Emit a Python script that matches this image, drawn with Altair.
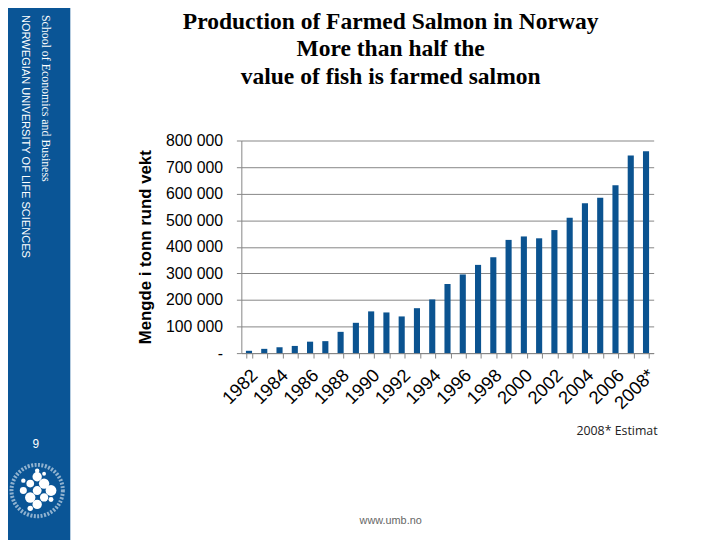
import altair as alt
import pandas as pd

# ---- data ----
years = [str(y) for y in range(1982, 2008)] + ["2008*"]
tonnes = [8700, 16000, 22000, 27000, 43000, 45000, 80000, 114000, 157000,
          153000, 138000, 169000, 202000, 260000, 296000, 332000, 361000,
          426000, 439000, 432000, 463000, 509000, 564000, 585000, 632000,
          744000, 760000]
shown_labels = ["1982", "1984", "1986", "1988", "1990", "1992", "1994", "1996",
                "1998", "2000", "2002", "2004", "2006", "2008*"]
y_ticks = [0, 100000, 200000, 300000, 400000, 500000, 600000, 700000, 800000]

title_lines = ["Production of Farmed Salmon in Norway",
               "More than half the",
               "value of fish is farmed salmon"]
side_serif = "School of Economics and Business"
side_sans = "NORWEGIAN UNIVERSITY OF LIFE SCIENCES"
page_no = "9"
note = "2008* Estimat"
footer = "www.umb.no"

df = pd.DataFrame({"year": years, "tonnes": tonnes})

# ---- layout ----
PL, PT = 244, 139           # plot origin in page coordinates
W, H = 417, 215
BAR = "#0B5390"
SIDE = "#0A5596"
GRAY = "#868686"


def px(x):
    return x - PL


def py(y):
    return y - PT


label_list = ",".join("'%s'" % s for s in shown_labels)

bars = alt.Chart(df).mark_bar(color=BAR).encode(
    x=alt.X("year:N", sort=None,
            scale=alt.Scale(paddingInner=0.6, paddingOuter=0.3),
            axis=alt.Axis(title=None, tickBand="extent", labelAngle=-45,
                          labelAlign="right", labelBaseline="middle",
                          labelFont="Liberation Sans", labelFontSize=18.5,
                          labelColor="#000000", labelPadding=14, labelOffset=5,
                          labelOverlap=False,
                          labelExpr="indexof([%s], datum.value) >= 0 ? datum.label : ''" % label_list,
                          tickSize=5, tickColor=GRAY, domainColor=GRAY)),
    y=alt.Y("tonnes:Q",
            scale=alt.Scale(domain=[0, 800000], nice=False),
            axis=alt.Axis(values=y_ticks, grid=True, gridColor=GRAY, gridOpacity=1,
                          labelExpr="datum.value == 0 ? '-\u00a0\u00a0' : format(datum.value / 1000, 'd') + ' 000'",
                          labelFont="Liberation Sans", labelFontSize=16,
                          labelColor="#000000", labelPadding=14,
                          tickSize=5, tickColor=GRAY, domainColor=GRAY,
                          title="Mengde i tonn rund vekt",
                          titleFont="Liberation Sans", titleFontSize=17,
                          titleFontWeight="bold", titleColor="#000000",
                          titleX=-97, titleY=H / 2, titleAngle=-90,
                          titleAlign="center", titleBaseline="middle")),
)

one = pd.DataFrame({"t": [""]})

sidebar = alt.Chart(one).mark_rect(color=SIDE, clip=False).encode(
    x=alt.value(px(0)), x2=alt.value(px(71)),
    y=alt.value(py(0)), y2=alt.value(py(545)))


def text_layer(txt, x, y, **kw):
    return alt.Chart(pd.DataFrame({"t": [txt]})).mark_text(clip=False, **kw).encode(
        text="t:N", x=alt.value(px(x)), y=alt.value(py(y)))


title = text_layer("\n".join(title_lines), 395, 26.5, font="Liberation Serif",
                   fontSize=23.8, fontWeight="bold", align="center",
                   baseline="alphabetic", lineBreak="\n", lineHeight=27.5,
                   color="#000000")
s1 = text_layer(side_serif, 46, 12, font="Liberation Serif", fontSize=12,
                angle=90, align="left", baseline="middle", color="#FFFFFF")
s2 = text_layer(side_sans, 25, 12, font="Liberation Sans", fontSize=11.2,
                angle=90, align="left", baseline="middle", color="#FFFFFF")
pg = text_layer(page_no, 36, 446, font="Liberation Sans", fontSize=12,
                align="center", baseline="middle", color="#FFFFFF")
nt = text_layer(note, 665, 433, font="Open Sans", fontSize=12.5,
                align="right", baseline="middle", color="#222222")
ft = text_layer(footer, 395, 524, font="Liberation Sans", fontSize=11,
                align="center", baseline="middle", color="#666666")

# logo (decorative)
ring = alt.Chart(one).mark_point(shape="circle", filled=False, size=2700,
                                 stroke="#FFFFFF", strokeWidth=4, opacity=0.55,
                                 strokeDash=[2, 1.5], clip=False).encode(
    x=alt.value(px(37.5)), y=alt.value(py(493)))

logo_dx = [0, -7, 7, -14, 0, 14, -7, 7, 0, -14, 14, 0, -7, 7]
logo_dy = [-14, -7, -7, 0, 0, 0, 7, 7, 14, -10, 9, -20, 18, -17]
logo_sz = [90, 60, 110, 50, 80, 120, 110, 70, 90, 20, 25, 20, 30, 15]
logo = pd.DataFrame({"lx": [px(37.5) + d for d in logo_dx],
                     "ly": [py(493) + d for d in logo_dy],
                     "ls": logo_sz})
dots = alt.Chart(logo).mark_circle(color="#FFFFFF", opacity=1, clip=False).encode(
    x=alt.X("lx:Q", scale=None), y=alt.Y("ly:Q", scale=None),
    size=alt.Size("ls:Q", scale=None, legend=None))

chart = alt.layer(sidebar, bars, title, s1, s2, pg, ring, dots, nt, ft).properties(
    width=W, height=H,
    padding={"left": PL - 8, "top": PT - 8, "right": 712 - (PL - 8) - W, "bottom": 532 - (PT - 8) - H},
    autosize=alt.AutoSizeParams(type="none"),
    background="#FFFFFF",
).configure_view(stroke=None)

chart.save("out.html", embed_options={"renderer": "svg", "actions": False})
